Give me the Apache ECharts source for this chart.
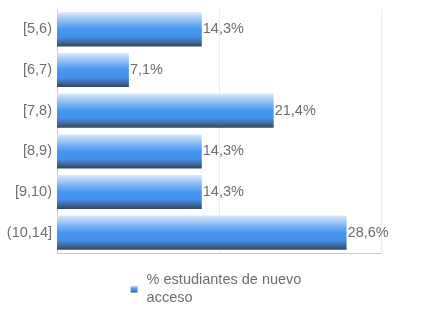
<!DOCTYPE html>
<html>
<head>
<meta charset="utf-8">
<script src="https://cdn.jsdelivr.net/npm/echarts@6/dist/echarts.min.js"></script>
<style>html,body{margin:0;padding:0;background:#fff}#c{width:432px;height:324px}</style>
</head>
<body>
<div id="c"></div>
<script>
var categories = ['[5,6)', '[6,7)', '[7,8)', '[8,9)', '[9,10)', '(10,14]'];
var values = [14.3, 7.1, 21.4, 14.3, 14.3, 28.6];
var seriesName = '% estudiantes de nuevo\nacceso';

var barGrad = new echarts.graphic.LinearGradient(0, 0, 0, 1, [
  {offset: 0, color: '#dce9fb'},
  {offset: 0.3, color: '#7db4f3'},
  {offset: 0.5, color: '#4697f0'},
  {offset: 0.72, color: '#4490ea'},
  {offset: 0.88, color: '#3f68a0'},
  {offset: 1, color: '#374456'}
]);

var chart = echarts.init(document.getElementById('c'), null, {renderer: 'canvas'});
chart.setOption({
  animation: false,
  textStyle: {fontFamily: 'Liberation Sans, Arial, sans-serif'},
  grid: {left: 57, right: 51, top: 9, bottom: 71, containLabel: false},
  xAxis: {
    type: 'value', min: 0, max: 32, interval: 16,
    axisLabel: {show: false},
    axisLine: {show: true, lineStyle: {color: '#cccccc'}},
    axisTick: {show: false},
    splitLine: {show: true, lineStyle: {color: '#ececec'}}
  },
  yAxis: {
    type: 'category', data: categories, inverse: true,
    axisLine: {show: true, lineStyle: {color: '#cccccc'}},
    axisTick: {show: false},
    axisLabel: {color: '#6e6e6e', fontSize: 14.5, margin: 5},
    splitLine: {show: false}
  },
  legend: {
    bottom: 12, left: 'center',
    itemWidth: 7, itemHeight: 7, itemGap: 10,
    icon: 'rect',
    textStyle: {color: '#6e6e6e', fontSize: 14.5, lineHeight: 18, padding: [0, 0, 0, 4]},
    data: [seriesName]
  },
  series: [{
    name: seriesName,
    type: 'bar',
    data: values,
    barCategoryGap: '16%',
    itemStyle: {color: barGrad},
    label: {
      show: true, position: 'right', distance: 1,
      color: '#6e6e6e', fontSize: 14.5,
      formatter: function (p) { return p.value.toFixed(1).replace('.', ',') + '%'; }
    }
  }]
});
</script>
</body>
</html>
